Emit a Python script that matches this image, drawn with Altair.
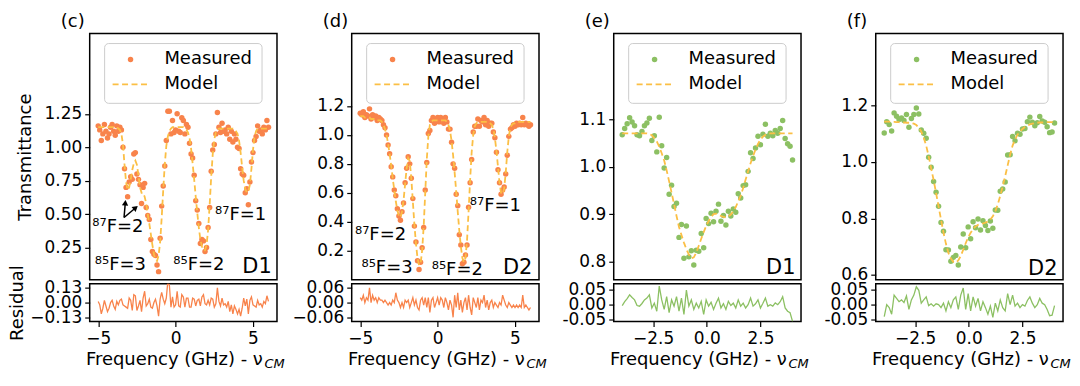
import altair as alt
import pandas as pd

FONT = "DejaVu Sans"
ORANGE = "#F8834B"
GREEN = "#8CC063"
MODEL_COL = "#FBBF45"

# ---- sampling grids (GHz) ----
CD_START, CD_STEP, CD_N = -5.0, 0.1, 111
EF_START, EF_STEP, EF_N = -3.94, 0.115, 70
FREQ_CD = [round(CD_START + CD_STEP * i, 3) for i in range(CD_N)]
FREQ_EF = [round(EF_START + EF_STEP * i, 3) for i in range(EF_N)]

# ---- panel (c): Rb D1, orange ----
MEAS_C = [1.16, 1.13, 1.05, 1.10, 1.17, 1.12, 1.07, 1.10, 1.15, 1.17,
          1.12, 1.09, 1.16, 1.12, 1.15, 1.13, 1.00, 0.84, 0.70, 0.63,
          0.74, 0.78, 0.76, 0.95, 0.96, 0.80, 0.76, 0.72, 0.58, 0.70,
          0.73, 0.55, 0.49, 0.46, 0.31, 0.22, 0.20, 0.19, 0.12, 0.07,
          0.32, 0.56, 0.71, 0.86, 1.05, 1.27, 1.27, 1.10, 1.20, 1.11,
          1.13, 1.25, 1.12, 1.11, 1.22, 1.20, 1.10, 1.17, 1.15, 1.03,
          0.95, 0.92, 0.79, 0.60, 0.53, 0.43, 0.28, 0.31, 0.30, 0.22,
          0.25, 0.40, 0.55, 0.82, 0.98, 1.02, 1.10, 1.26, 1.15, 1.11,
          1.18, 1.12, 1.13, 1.10, 1.15, 1.06, 1.12, 1.04, 1.10, 1.06,
          1.00, 0.99, 0.84, 0.80, 0.79, 0.66, 0.69, 0.57, 0.74, 0.89,
          0.96, 1.05, 1.08, 1.16, 1.12, 1.13, 1.10, 1.15, 1.13, 1.20, 1.15]
MODEL_C = [1.15, 1.15, 1.15, 1.15, 1.15, 1.15, 1.15, 1.15, 1.15, 1.15,
           1.15, 1.15, 1.15, 1.14, 1.13, 1.10, 1.02, 0.87, 0.74, 0.68,
           0.70, 0.76, 0.83, 0.88, 0.90, 0.87, 0.79, 0.70, 0.66, 0.66,
           0.63, 0.58, 0.50, 0.43, 0.35, 0.27, 0.20, 0.16, 0.15, 0.19,
           0.29, 0.47, 0.68, 0.87, 1.01, 1.08, 1.12, 1.14, 1.15, 1.15,
           1.15, 1.15, 1.15, 1.15, 1.15, 1.15, 1.14, 1.13, 1.11, 1.07,
           0.99, 0.88, 0.76, 0.63, 0.51, 0.40, 0.31, 0.26, 0.23, 0.23,
           0.27, 0.38, 0.57, 0.78, 0.95, 1.06, 1.11, 1.13, 1.14, 1.14,
           1.14, 1.14, 1.14, 1.14, 1.14, 1.14, 1.14, 1.14, 1.13, 1.12,
           1.10, 1.05, 0.96, 0.85, 0.75, 0.69, 0.66, 0.67, 0.72, 0.84,
           0.98, 1.08, 1.12, 1.14, 1.14, 1.14, 1.14, 1.14, 1.14, 1.14, 1.14]

# ---- panel (d): Rb D2, orange ----
MODEL_D = [1.13, 1.13, 1.13, 1.12, 1.12, 1.12, 1.12, 1.11, 1.11, 1.11,
           1.11, 1.10, 1.10, 1.10, 1.09, 1.07, 1.04, 1.00, 0.94, 0.87,
           0.79, 0.70, 0.62, 0.54, 0.48, 0.44, 0.43, 0.47, 0.55, 0.66,
           0.77, 0.84, 0.82, 0.70, 0.54, 0.38, 0.25, 0.15, 0.10, 0.11,
           0.20, 0.37, 0.60, 0.83, 0.99, 1.07, 1.09, 1.10, 1.10, 1.10,
           1.10, 1.10, 1.10, 1.10, 1.10, 1.10, 1.09, 1.07, 1.03, 0.96,
           0.86, 0.74, 0.61, 0.47, 0.34, 0.23, 0.15, 0.12, 0.15, 0.27,
           0.47, 0.69, 0.88, 1.00, 1.06, 1.08, 1.09, 1.09, 1.09, 1.09,
           1.09, 1.09, 1.09, 1.09, 1.08, 1.07, 1.04, 0.98, 0.89, 0.78,
           0.67, 0.60, 0.59, 0.63, 0.74, 0.88, 0.99, 1.05, 1.07, 1.08,
           1.08, 1.09, 1.09, 1.09, 1.09, 1.09, 1.09, 1.09, 1.09, 1.09, 1.09]
RESID_D = [0.02, 0.01, 0.03, 0.00, 0.02, 0.01, 0.06, 0.00, 0.03, 0.01,
           0.02, 0.00, 0.02, 0.01, 0.01, 0.00, 0.01, 0.00, -0.01, 0.00,
           -0.01, 0.01, 0.00, 0.04, 0.01, 0.00, -0.02, 0.00, -0.02, 0.01,
           0.00, 0.01, -0.02, 0.00, 0.02, -0.01, 0.01, -0.02, -0.03, 0.01,
           0.02, -0.01, 0.02, -0.02, 0.02, -0.04, 0.01, 0.02, -0.02, 0.00,
           0.02, -0.01, 0.02, 0.01, -0.02, 0.02, 0.00, -0.03, 0.01, -0.01,
           -0.06, 0.03, -0.02, 0.04, -0.03, 0.01, -0.04, 0.00, 0.02, -0.03,
           0.03, -0.02, -0.05, 0.02, 0.00, -0.02, 0.02, -0.03, 0.01, 0.00,
           0.03, -0.02, 0.01, -0.03, 0.00, 0.01, -0.02, 0.00, -0.01, -0.02,
           0.00, -0.01, 0.03, 0.01, -0.01, -0.02, 0.00, -0.01, -0.02, -0.01,
           -0.02, -0.01, -0.02, -0.01, -0.02, 0.03, -0.02, -0.01, -0.02, -0.03, -0.02]

# ---- panel (e): D1, green ----
MODEL_E = [1.070, 1.070, 1.070, 1.070, 1.070, 1.070, 1.070, 1.070, 1.070, 1.070,
           1.070, 1.069, 1.066, 1.060, 1.053, 1.042, 1.028, 1.013, 0.992, 0.969,
           0.945, 0.921, 0.896, 0.873, 0.856, 0.840, 0.826, 0.815, 0.807, 0.809,
           0.819, 0.833, 0.848, 0.862, 0.875, 0.885, 0.894, 0.900, 0.901, 0.899,
           0.896, 0.894, 0.893, 0.895, 0.899, 0.906, 0.915, 0.927, 0.939, 0.955,
           0.973, 0.990, 1.007, 1.022, 1.036, 1.048, 1.057, 1.063, 1.067, 1.069,
           1.070, 1.070, 1.070, 1.070, 1.070, 1.070, 1.070, 1.070, 1.070, 1.070]
RESID_E = [-0.003, 0.010, 0.020, 0.033, 0.024, 0.016, -0.003, -0.005, 0.004, 0.016,
           0.022, 0.033, -0.011, 0.005, -0.022, 0.062, 0.016, -0.016, 0.027, -0.027,
           0.016, -0.005, 0.027, -0.022, 0.022, -0.033, 0.049, -0.005, 0.016, -0.016,
           0.005, -0.011, 0.011, -0.033, 0.016, -0.005, 0.008, -0.016, 0.005, 0.022,
           -0.011, 0.003, -0.016, 0.011, -0.003, 0.005, -0.011, 0.016, -0.005, 0.005,
           -0.011, 0.000, 0.022, -0.005, 0.003, 0.016, -0.011, 0.005, 0.022, -0.005,
           0.000, -0.005, 0.006, 0.000, 0.010, 0.027, -0.011, -0.022, -0.027, -0.056]

# ---- panel (f): D2, green ----
MODEL_F = [1.143, 1.143, 1.143, 1.142, 1.142, 1.141, 1.141, 1.140, 1.140, 1.139,
           1.139, 1.138, 1.136, 1.131, 1.122, 1.108, 1.086, 1.058, 1.020, 0.978,
           0.936, 0.890, 0.843, 0.796, 0.750, 0.710, 0.678, 0.658, 0.646, 0.643,
           0.651, 0.667, 0.689, 0.712, 0.733, 0.749, 0.762, 0.772, 0.777, 0.780,
           0.782, 0.785, 0.789, 0.796, 0.808, 0.825, 0.850, 0.880, 0.914, 0.950,
           0.988, 1.026, 1.058, 1.080, 1.097, 1.108, 1.117, 1.124, 1.129, 1.133,
           1.136, 1.138, 1.139, 1.140, 1.140, 1.141, 1.141, 1.141, 1.141, 1.141]
RESID_F = [-0.040, 0.000, -0.010, -0.032, 0.032, 0.021, 0.010, 0.016, 0.007, 0.029,
           -0.016, 0.016, 0.032, 0.060, 0.048, 0.005, 0.016, 0.026, -0.003, 0.003,
           -0.005, 0.003, 0.000, -0.010, 0.005, -0.021, 0.010, -0.010, 0.016, 0.026,
           -0.016, 0.032, 0.056, -0.016, 0.037, -0.021, 0.026, -0.005, 0.021, -0.021,
           0.010, -0.010, -0.032, -0.005, -0.043, 0.005, -0.021, 0.016, -0.010, -0.021,
           0.037, 0.000, 0.032, -0.005, 0.005, -0.010, 0.000, -0.005, 0.014, 0.026,
           0.005, -0.010, 0.000, 0.021, 0.005, 0.000, -0.016, -0.037, -0.035, -0.003]

for arr, n in [(MEAS_C, CD_N), (MODEL_C, CD_N), (MODEL_D, CD_N), (RESID_D, CD_N),
               (MODEL_E, EF_N), (RESID_E, EF_N), (MODEL_F, EF_N), (RESID_F, EF_N)]:
    assert len(arr) == n, (len(arr), n)

RESID_C = [round(a - b, 3) for a, b in zip(MEAS_C, MODEL_C)]
MEAS_D = [round(a + b, 3) for a, b in zip(MODEL_D, RESID_D)]
MEAS_E = [round(a + b, 3) for a, b in zip(MODEL_E, RESID_E)]
MEAS_F = [round(a + b, 3) for a, b in zip(MODEL_F, RESID_F)]

# ---- annotations ----
NOTES_C = {"f": [-3.73, -3.57, 1.5, 4.2], "v": [0.40, 0.12, 0.12, 0.49],
           "t": ["\u2078\u2077F=2", "\u2078\u2075F=3", "\u2078\u2075F=2", "\u2078\u2077F=1"]}
NOTES_D = {"f": [-3.69, -3.27, 1.27, 3.73], "v": [0.308, 0.08, 0.069, 0.506],
           "t": ["\u2078\u2077F=2", "\u2078\u2075F=3", "\u2078\u2075F=2", "\u2078\u2077F=1"]}
ARROWS_C = {"f": [-3.33, -3.33], "v": [0.475, 0.475], "f2": [-3.25, -2.58], "v2": [0.585, 0.548],
            "a": [5, 50]}

PANELS = [
    dict(label="(c)", freq=FREQ_CD, meas=MEAS_C, model=MODEL_C, resid=RESID_C, color=ORANGE,
         xdom=[-5.55, 6.55], xticks=[-5, 0, 5], xfmt="d",
         ydom=[0.01, 1.85], yticks=[0.25, 0.5, 0.75, 1.0, 1.25], yfmt=".2f",
         rdom=[-0.167, 0.167], rticks=[-0.13, 0.0, 0.13], hyphen=False,
         notes=NOTES_C, tag=("D1", 6.21, 0.108), arrows=ARROWS_C,
         ytitle="Transmittance", rtitle="Residual"),
    dict(label="(d)", freq=FREQ_CD, meas=MEAS_D, model=MODEL_D, resid=RESID_D, color=ORANGE,
         xdom=[-5.55, 6.55], xticks=[-5, 0, 5], xfmt="d",
         ydom=[0.0, 1.70], yticks=[0.2, 0.4, 0.6, 0.8, 1.0, 1.2], yfmt=".1f",
         rdom=[-0.077, 0.077], rticks=[-0.06, 0.0, 0.06], hyphen=False,
         notes=NOTES_D, tag=("D2", 6.12, 0.08), arrows=None, ytitle="", rtitle=""),
    dict(label="(e)", freq=FREQ_EF, meas=MEAS_E, model=MODEL_E, resid=RESID_E, color=GREEN,
         xdom=[-4.336, 4.39], xticks=[-2.5, 0.0, 2.5], xfmt=".1f",
         ydom=[0.762, 1.28], yticks=[0.8, 0.9, 1.0, 1.1], yfmt=".1f",
         rdom=[-0.0565, 0.0705], rticks=[-0.05, 0.0, 0.05], hyphen=True,
         notes=None, tag=("D1", 4.13, 0.787), arrows=None, ytitle="", rtitle=""),
    dict(label="(f)", freq=FREQ_EF, meas=MEAS_F, model=MODEL_F, resid=RESID_F, color=GREEN,
         xdom=[-4.336, 4.39], xticks=[-2.5, 0.0, 2.5], xfmt=".1f",
         ydom=[0.583, 1.455], yticks=[0.6, 0.8, 1.0, 1.2], yfmt=".1f",
         rdom=[-0.0565, 0.0705], rticks=[-0.05, 0.0, 0.05], hyphen=True,
         notes=None, tag=("D2", 4.13, 0.622), arrows=None, ytitle="", rtitle=""),
]

W, HM, HR = 188, 247, 38
EXT_L, EXT_R = 64, 8          # fixed horizontal extent of every column around its plot
GAP = 73                      # plot-to-plot distance in the reference
ONE = pd.DataFrame({"k": [0]})


def legend_layers(dot_color):
    box = alt.Chart(ONE).mark_rect(fill="white", fillOpacity=0.8, stroke="#CCCCCC",
                                   strokeWidth=1, cornerRadius=4).encode(
        x=alt.value(15), x2=alt.value(173), y=alt.value(10), y2=alt.value(70))
    dot = alt.Chart(ONE).mark_circle(size=30, opacity=1, color=dot_color).encode(
        x=alt.value(41), y=alt.value(26))
    dash = alt.Chart(ONE).mark_rule(color=MODEL_COL, strokeDash=[6, 3.5], strokeWidth=1.8).encode(
        x=alt.value(23), x2=alt.value(60), y=alt.value(51))
    t1 = alt.Chart(ONE).mark_text(text="Measured", align="left", baseline="middle", fontSize=18,
                                  font=FONT, color="black").encode(x=alt.value(75), y=alt.value(26))
    t2 = alt.Chart(ONE).mark_text(text="Model", align="left", baseline="middle", fontSize=18,
                                  font=FONT, color="black").encode(x=alt.value(75), y=alt.value(51))
    return [box, dot, dash, t1, t2]


def main_panel(p):
    xs = alt.Scale(domain=p["xdom"], nice=False, zero=False)
    ys = alt.Scale(domain=p["ydom"], nice=False, zero=False)
    yax = alt.Axis(values=p["yticks"], format=p["yfmt"], title=p["ytitle"],
                   titleX=-59, titleY=HM / 2, titleAngle=-90, titleAlign="center",
                   titleBaseline="alphabetic")
    X = alt.X("f:Q", scale=xs, axis=None)
    Y = alt.Y("v:Q", scale=ys, axis=yax)
    meas = pd.DataFrame({"f": p["freq"], "v": p["meas"]})
    model = pd.DataFrame({"f": p["freq"], "v": p["model"]})
    layers = [
        alt.Chart(meas).mark_circle(size=30, opacity=1, color=p["color"]).encode(x=X, y=Y),
        alt.Chart(model).mark_line(color=MODEL_COL, strokeDash=[6, 3.5], strokeWidth=1.8).encode(x=X, y=Y),
    ]
    if p["notes"]:
        layers.append(alt.Chart(pd.DataFrame(p["notes"])).mark_text(
            fontSize=18, font=FONT, color="black", align="center", baseline="middle").encode(
            x=X, y=Y, text="t:N"))
    tag = pd.DataFrame({"f": [p["tag"][1]], "v": [p["tag"][2]], "t": [p["tag"][0]]})
    layers.append(alt.Chart(tag).mark_text(fontSize=21, font=FONT, color="black",
                                           align="right", baseline="middle").encode(
        x=X, y=Y, text="t:N"))
    if p["arrows"]:
        adf = pd.DataFrame(p["arrows"])
        layers.append(alt.Chart(adf).mark_rule(color="black", strokeWidth=1.5).encode(
            x=X, y=Y, x2="f2:Q", y2="v2:Q"))
        layers.append(alt.Chart(adf).mark_point(shape="triangle-up", filled=True, size=40,
                                                color="black", opacity=1).encode(
            x=alt.X("f2:Q", scale=xs, axis=None), y=alt.Y("v2:Q", scale=ys, axis=yax),
            angle=alt.Angle("a:Q", scale=None)))
    layers += legend_layers(p["color"])
    # panel label, e.g. "(c)"
    layers.append(alt.Chart(ONE).mark_text(text=p["label"], align="left", baseline="alphabetic",
                                           fontSize=18, font=FONT, color="black").encode(
        x=alt.value(-29), y=alt.value(-7)))
    # invisible spacer fixing the column's horizontal extent
    layers.append(alt.Chart(ONE).mark_rule(strokeOpacity=0, strokeWidth=1).encode(
        x=alt.value(-EXT_L), x2=alt.value(W + EXT_R), y=alt.value(HM / 2)))
    return alt.layer(*layers).properties(width=W, height=HM)


def resid_panel(p):
    xs = alt.Scale(domain=p["xdom"], nice=False, zero=False)
    rs = alt.Scale(domain=p["rdom"], nice=False, zero=False)
    title_cx = W / 2 - 9.5
    xax = alt.Axis(values=p["xticks"], format=p["xfmt"], title="Frequency (GHz) - \u03bd",
                   titleX=title_cx, titleY=43, titleAlign="center", titleBaseline="alphabetic",
                   labelPadding=4, labelFlush=False)
    ykw = dict(values=p["rticks"], format=".2f", labelOverlap=False, title=p["rtitle"],
               titleX=-67, titleY=HR / 2, titleAngle=-90, titleAlign="center",
               titleBaseline="alphabetic")
    if p["hyphen"]:
        ykw["labelExpr"] = "replace(datum.label, '\u2212', '-')"
    df = pd.DataFrame({"f": p["freq"], "r": p["resid"]})
    line = alt.Chart(df).mark_line(color=p["color"], strokeWidth=1.3, clip=True).encode(
        x=alt.X("f:Q", scale=xs, axis=xax), y=alt.Y("r:Q", scale=rs, axis=alt.Axis(**ykw)))
    sub = alt.Chart(ONE).mark_text(text="CM", fontStyle="italic", fontSize=13, font=FONT,
                                   align="left", baseline="alphabetic", color="black").encode(
        x=alt.value(title_cx + 91), y=alt.value(HR + 47))
    return alt.layer(line, sub).properties(width=W, height=HR)


cols = [alt.vconcat(main_panel(p), resid_panel(p), spacing=4, bounds="flush") for p in PANELS]

chart = alt.hconcat(*cols, spacing=GAP - EXT_L - EXT_R,
                    padding={"left": 0, "top": 3, "right": 0, "bottom": 0}).configure_view(
    stroke="black", strokeWidth=1.5
).configure_axis(
    grid=False, domain=False, labelFont=FONT, labelFontSize=17, labelColor="black",
    titleFont=FONT, titleFontSize=18, titleColor="black", titleFontWeight="normal",
    tickColor="black", tickWidth=1.2, tickSize=5, labelPadding=3
)

chart.save("out.html", embed_options={"renderer": "svg", "actions": False})
